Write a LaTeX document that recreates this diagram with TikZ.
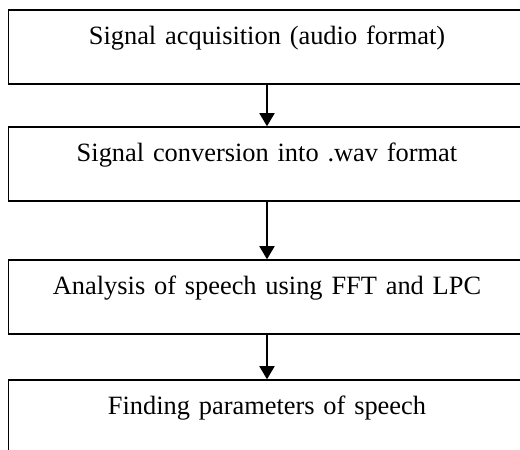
\documentclass[tikz,border=0pt]{standalone}
\usepackage{fontspec}
\setmainfont{Liberation Serif}
\usetikzlibrary{arrows.meta}

\tikzset{
  stagebox/.style={draw=black, line width=1.5pt, rectangle, inner sep=0pt,
    minimum width=517pt, text width=500pt, align=center,
    text height=35pt, text depth=39pt,
    font=\fontsize{26.4}{30}\selectfont},
  flowarrow/.style={draw=black, line width=1.6pt,
    -{Triangle[length=13pt,width=15pt]}}
}

\begin{document}
\begin{tikzpicture}[x=1pt,y=1pt]
  \useasboundingbox (0,0) rectangle (520,450);
  \clip (0,0) rectangle (520,450);

  \node[stagebox] (acq)  at (267,403) {Signal acquisition (audio format)};
  \node[stagebox] (conv) at (267,286) {Signal conversion into .wav format};
  \node[stagebox] (anal) at (267,153) {Analysis of speech using FFT and LPC};
  \node[stagebox] (par)  at (267,33)  {Finding parameters of speech};

  \draw[flowarrow] (acq.south)  -- (conv.north);
  \draw[flowarrow] (conv.south) -- (anal.north);
  \draw[flowarrow] (anal.south) -- (par.north);
\end{tikzpicture}
\end{document}
